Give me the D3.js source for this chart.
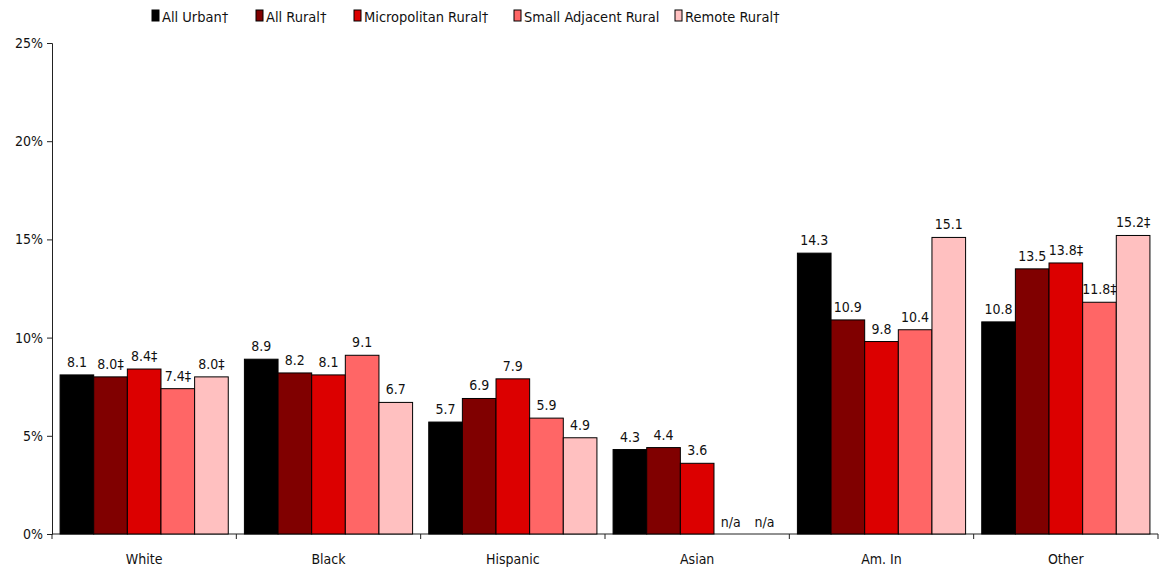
<!DOCTYPE html>
<html>
<head>
<meta charset="utf-8">
<script src="https://cdn.jsdelivr.net/npm/d3@7"></script>
<style>
  html, body { margin: 0; padding: 0; background: #fff; }
  svg { display: block; }
  text { font-family: "DejaVu Sans Condensed", "DejaVu Sans", sans-serif; font-stretch: condensed; fill: #111; }
</style>
</head>
<body>
<svg id="chart" width="1160" height="569"></svg>
<script>
// Race / ethnicity groups along the x axis
const categories = ["White", "Black", "Hispanic", "Asian", "Am. In", "Other"];

// Series (one per area type)
const seriesNames = ["All Urban†", "All Rural†", "Micropolitan Rural†", "Small Adjacent Rural", "Remote Rural†"];
const seriesColors = ["#000000", "#800000", "#DC0000", "#FF6666", "#FFC0C0"];

// Percent values per series, in category order (null = not available)
const allUrban      = [8.1, 8.9, 5.7, 4.3, 14.3, 10.8];
const allRural      = [8.0, 8.2, 6.9, 4.4, 10.9, 13.5];
const micropolitan  = [8.4, 8.1, 7.9, 3.6, 9.8, 13.8];
const smallAdjacent = [7.4, 9.1, 5.9, null, 10.4, 11.8];
const remoteRural   = [8.0, 6.7, 4.9, null, 15.1, 15.2];

// Footnote marks appended to the value labels
const allUrbanMarks      = ["", "", "", "", "", ""];
const allRuralMarks      = ["‡", "", "", "", "", ""];
const micropolitanMarks  = ["‡", "", "", "", "", "‡"];
const smallAdjacentMarks = ["‡", "", "", "", "", "‡"];
const remoteRuralMarks   = ["‡", "", "", "", "", "‡"];

const yTicks = [0, 5, 10, 15, 20, 25];

const seriesValues = [allUrban, allRural, micropolitan, smallAdjacent, remoteRural];
const seriesMarks = [allUrbanMarks, allRuralMarks, micropolitanMarks, smallAdjacentMarks, remoteRuralMarks];

const svg = d3.select("#chart");

const x0 = d3.scaleBand().domain(categories).range([52, 1158]).paddingInner(0).paddingOuter(0);
const x1 = d3.scaleBand().domain(d3.range(seriesNames.length))
  .range([0, x0.bandwidth()]).paddingOuter(0.24).paddingInner(0);
const y = d3.scaleLinear().domain([0, 25]).range([534, 43]);

// Y axis
const yAxis = d3.axisLeft(y).tickValues(yTicks).tickSize(5).tickPadding(4).tickFormat(d => d + "%");
const gy = svg.append("g").attr("transform", "translate(52,0)").call(yAxis);
gy.select(".domain").attr("stroke", "#222");
gy.selectAll(".tick line").attr("stroke", "#222");
gy.selectAll(".tick text").style("font-size", "14px").attr("fill", "#111");

// X axis with boundary ticks between groups
const gx = svg.append("g").attr("transform", "translate(0,534)");
gx.append("line").attr("x1", 52).attr("x2", 1158).attr("y1", 0).attr("y2", 0).attr("stroke", "#222");
const bounds = categories.map(c => x0(c)).concat([x0(categories[categories.length - 1]) + x0.bandwidth()]);
gx.selectAll("line.bound").data(bounds).enter().append("line")
  .attr("class", "bound")
  .attr("x1", d => d).attr("x2", d => d).attr("y1", 0).attr("y2", 5).attr("stroke", "#222");
gx.selectAll("text.cat").data(categories).enter().append("text")
  .attr("class", "cat")
  .attr("x", d => x0(d) + x0.bandwidth() / 2)
  .attr("y", 30)
  .attr("text-anchor", "middle")
  .style("font-size", "14px")
  .text(d => d);

// Bars and value labels
const groups = svg.selectAll("g.grp").data(categories).enter().append("g")
  .attr("class", "grp")
  .attr("transform", d => `translate(${x0(d)},0)`);

groups.each(function(cat, ci) {
  const g = d3.select(this);
  seriesValues.forEach((vals, si) => {
    const v = vals[ci];
    const bx = x1(si);
    if (v !== null) {
      g.append("rect")
        .attr("x", bx)
        .attr("y", y(v))
        .attr("width", x1.bandwidth())
        .attr("height", y(0) - y(v))
        .attr("fill", seriesColors[si])
        .attr("stroke", "#000")
        .attr("stroke-width", 1);
      g.append("text")
        .attr("x", bx + x1.bandwidth() / 2)
        .attr("y", y(v) - 8)
        .attr("text-anchor", "middle")
        .style("font-size", "14px")
        .text(v.toFixed(1) + seriesMarks[si][ci]);
    } else {
      g.append("text")
        .attr("x", bx + x1.bandwidth() / 2)
        .attr("y", y(0) - 7)
        .attr("text-anchor", "middle")
        .style("font-size", "14px")
        .text("n/a");
    }
  });
});

// Legend
const legendX = [152, 256, 354, 514, 675];
const legend = svg.append("g");
seriesNames.forEach((name, i) => {
  legend.append("rect")
    .attr("x", legendX[i]).attr("y", 10)
    .attr("width", 7).attr("height", 11)
    .attr("fill", seriesColors[i]).attr("stroke", "#000").attr("stroke-width", 1);
  legend.append("text")
    .attr("x", legendX[i] + 10).attr("y", 22)
    .style("font-size", "14.5px")
    .text(name);
});
</script>
</body>
</html>
